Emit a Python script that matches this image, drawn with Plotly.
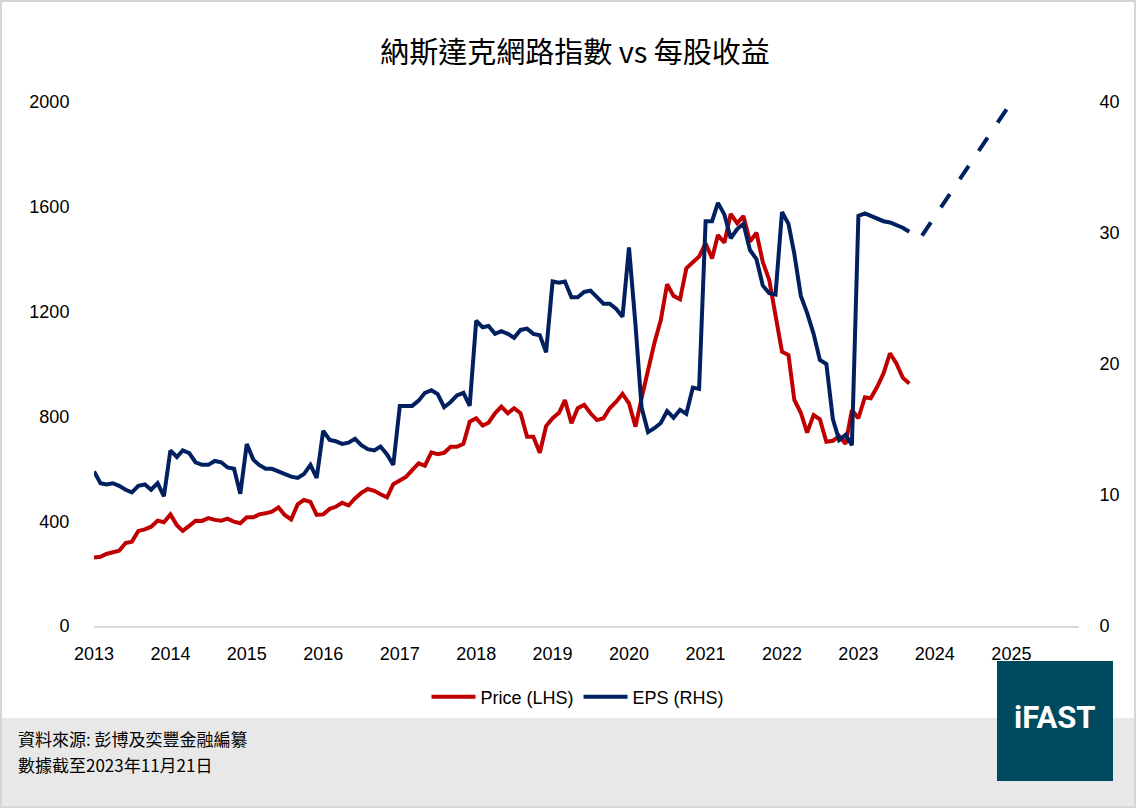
import plotly.graph_objects as go
import pandas as pd

# monthly observations, Jan 2013 .. Sep 2023
months = pd.date_range("2013-01-01", "2023-09-01", freq="MS")

price = [
    261, 264, 275, 282, 287, 317, 322, 363, 369, 379, 402, 396,      # 2013
    426, 385, 363, 382, 402, 401, 412, 405, 402, 410, 398, 392,      # 2014
    415, 415, 426, 430, 436, 453, 424, 407, 464, 481, 474, 424,      # 2015
    426, 447, 455, 470, 460, 487, 508, 523, 516, 503, 491, 541,      # 2016
    557, 570, 595, 621, 612, 663, 656, 661, 684, 684, 695, 780,      # 2017
    793, 765, 776, 812, 837, 812, 831, 812, 722, 722, 661, 763,      # 2018
    793, 814, 862, 774, 831, 844, 812, 786, 793, 831, 856, 886,      # 2019
    850, 761, 869, 977, 1079, 1168, 1304, 1260, 1247, 1365, 1387, 1410,  # 2020
    1461, 1403, 1492, 1463, 1573, 1537, 1565, 1467, 1501, 1390, 1321, 1175,  # 2021
    1047, 1034, 863, 814, 738, 805, 789, 703, 707, 725, 695, 824,    # 2022
    793, 873, 869, 913, 964, 1041, 1003, 948, 926,                   # 2023
]

eps = [
    11.8, 10.9, 10.8, 10.9, 10.7, 10.4, 10.2, 10.7, 10.8, 10.4, 10.9, 9.9,   # 2013
    13.4, 12.9, 13.4, 13.2, 12.5, 12.3, 12.3, 12.6, 12.5, 12.1, 12.0, 10.1,  # 2014
    13.9, 12.7, 12.3, 12.0, 12.0, 11.8, 11.6, 11.4, 11.3, 11.6, 12.3, 11.3,  # 2015
    14.9, 14.2, 14.1, 13.9, 14.0, 14.3, 13.8, 13.5, 13.4, 13.7, 13.1, 12.3,  # 2016
    16.8, 16.8, 16.8, 17.2, 17.8, 18.0, 17.7, 16.7, 17.1, 17.6, 17.8, 16.8,  # 2017
    23.3, 22.8, 22.9, 22.3, 22.5, 22.3, 22.0, 22.6, 22.7, 22.3, 22.2, 20.9,  # 2018
    26.3, 26.2, 26.3, 25.1, 25.1, 25.5, 25.6, 25.1, 24.6, 24.6, 24.2, 23.6,  # 2019
    28.9, 23.0, 16.7, 14.8, 15.1, 15.5, 16.4, 15.9, 16.5, 16.2, 18.2, 18.1,  # 2020
    30.9, 30.9, 32.3, 31.4, 29.6, 30.3, 30.7, 28.7, 28.0, 26.0, 25.4, 25.3,  # 2021
    31.6, 30.7, 28.4, 25.2, 23.9, 22.3, 20.3, 20.0, 15.8, 14.2, 14.6, 13.8,  # 2022
    31.3, 31.5, 31.3, 31.1, 30.9, 30.8, 30.6, 30.4, 30.1,                    # 2023
]

# forecast (dashed)
fcst_dates = ["2023-11-01", "2025-01-01"]
fcst_eps = [29.8, 40.0]

RED = "#C00000"
NAVY = "#002060"
TEAL = "#004A60"
W, H = 1136, 808
L, R, T, B = 94, 57, 102, 182
PW, PH = W - L - R, H - T - B


def px(x):
    return (x - L) / PW


def py(y):
    return (H - B - y) / PH


fig = go.Figure()
fig.add_trace(go.Scatter(x=months, y=price, name="Price (LHS)", mode="lines",
                         line=dict(color=RED, width=4)))
fig.add_trace(go.Scatter(x=months, y=eps, name="EPS (RHS)", mode="lines",
                         line=dict(color=NAVY, width=4), yaxis="y2"))
fig.add_trace(go.Scatter(x=fcst_dates, y=fcst_eps, mode="lines", showlegend=False,
                         line=dict(color=NAVY, width=4, dash="16px,18px"), yaxis="y2"))

tick_font = dict(family="Liberation Sans, Arial", size=18, color="#000000")

fig.update_layout(
    width=W, height=H,
    margin=dict(l=L, r=R, t=T, b=B),
    paper_bgcolor="white", plot_bgcolor="white",
    title=dict(text="納斯達克網路指數 vs 每股收益", x=575 / W, xanchor="center",
               y=1 - 53 / H, yanchor="middle",
               font=dict(family="Noto Sans CJK TC", size=29, color="#000000")),
    xaxis=dict(type="date", range=["2013-01-01", "2025-11-20"],
               tick0="2013-01-01", dtick="M12", tickformat="%Y",
               showgrid=False, zeroline=False,
               showline=True, linecolor="#D9D9D9", linewidth=2,
               ticks="outside", ticklen=10, tickcolor="rgba(0,0,0,0)",
               tickfont=tick_font),
    yaxis=dict(range=[0, 2000], dtick=400, tickformat="d",
               showgrid=False, zeroline=False, showline=False,
               ticks="outside", ticklen=20, tickcolor="rgba(0,0,0,0)",
               tickfont=tick_font),
    yaxis2=dict(range=[0, 40], dtick=10, overlaying="y", side="right",
                showgrid=False, zeroline=False, showline=False,
                ticks="outside", ticklen=16, tickcolor="rgba(0,0,0,0)",
                tickfont=tick_font),
    legend=dict(orientation="h", x=px(578), xanchor="center",
                y=py(697), yanchor="middle", itemwidth=44,
                font=dict(family="Liberation Sans, Arial", size=18, color="#000000"),
                bgcolor="rgba(0,0,0,0)"),
    showlegend=True,
)

# footer band, frame and logo box
fig.add_shape(type="rect", xref="paper", yref="paper",
              x0=px(0), x1=px(W), y0=py(H), y1=py(718),
              fillcolor="#E8E8E8", line=dict(width=0), layer="below")
fig.add_shape(type="rect", xref="paper", yref="paper",
              x0=px(1), x1=px(W - 1), y0=py(H - 1), y1=py(1),
              fillcolor="rgba(0,0,0,0)", line=dict(color="#D6D6D6", width=2))
fig.add_shape(type="rect", xref="paper", yref="paper",
              x0=px(997), x1=px(1113), y0=py(781), y1=py(661),
              fillcolor=TEAL, line=dict(width=0))
fig.add_annotation(text="<b>iFAST</b>", xref="paper", yref="paper",
                   x=px(1055), y=py(717), xanchor="center", yanchor="middle",
                   showarrow=False,
                   font=dict(family="Liberation Sans Narrow, Roboto", size=31, color="white"))

footer_font = dict(family="Noto Sans CJK TC", size=17, color="#000000")
fig.add_annotation(text="資料來源: 彭博及奕豐金融編纂", xref="paper", yref="paper",
                   x=px(16), y=py(738), xanchor="left", yanchor="middle",
                   showarrow=False, font=footer_font)
fig.add_annotation(text="數據截至2023年11月21日", xref="paper", yref="paper",
                   x=px(16), y=py(764), xanchor="left", yanchor="middle",
                   showarrow=False, font=footer_font)

fig.write_html("out.html", config={"displayModeBar": False},
               post_script="document.body.style.margin='0';")
